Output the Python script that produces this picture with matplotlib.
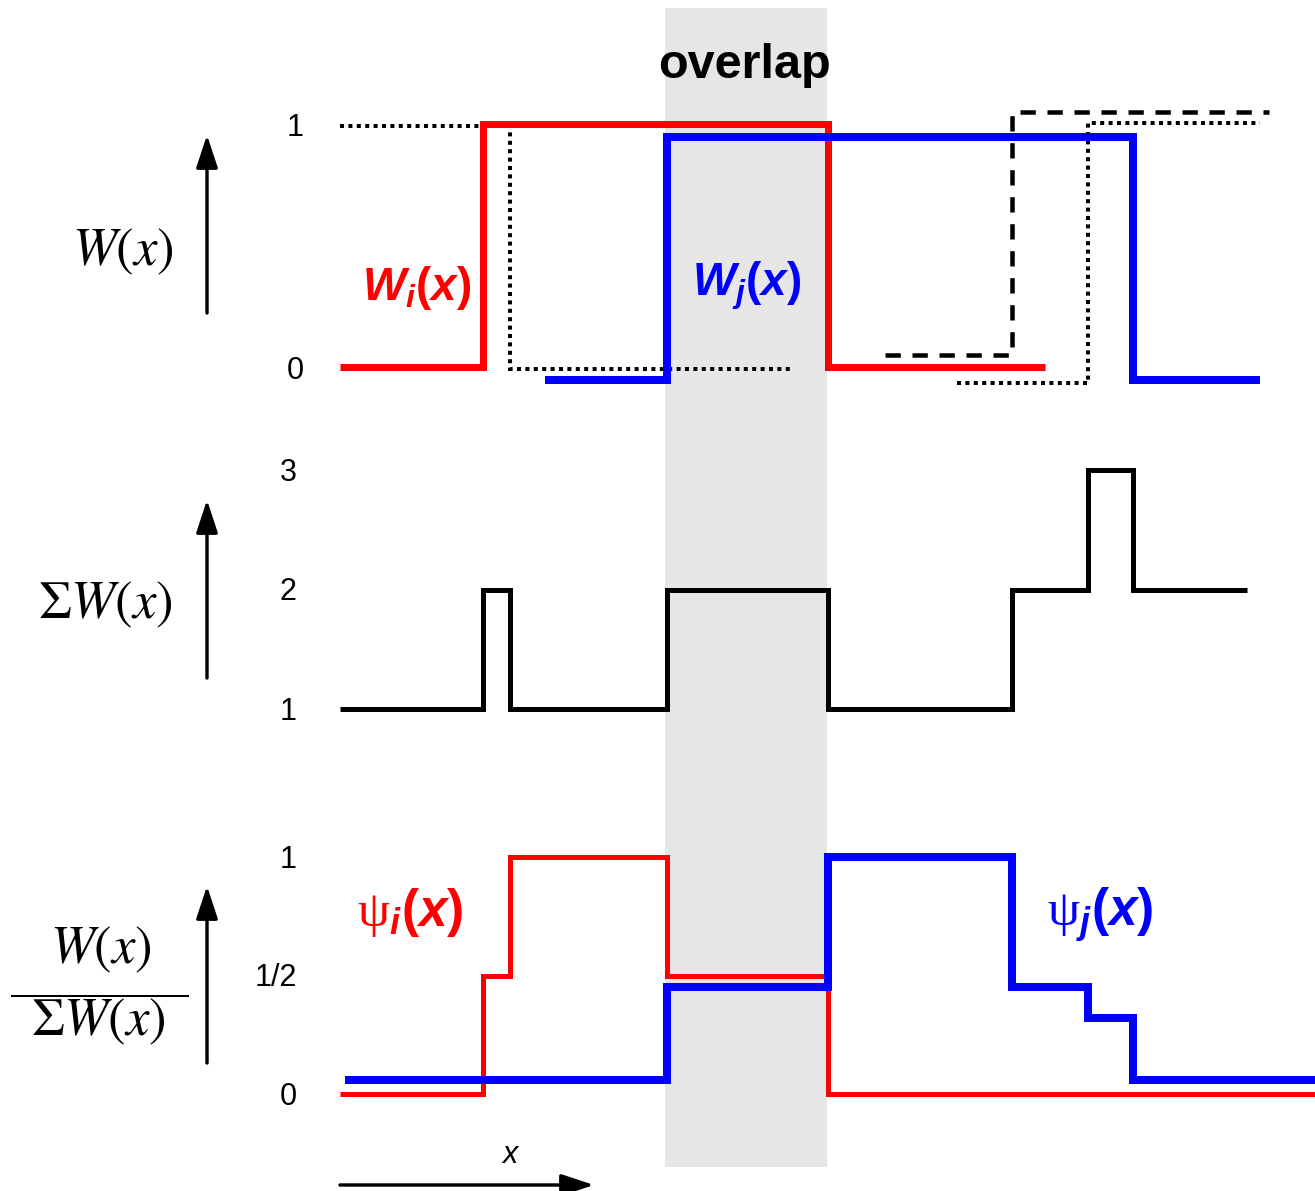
import matplotlib
matplotlib.use("Agg")
import matplotlib.pyplot as plt
from matplotlib.transforms import offset_copy, blended_transform_factory
from matplotlib.patches import FancyArrowPatch
from matplotlib.lines import Line2D

# ---------------- data ----------------
# x positions of the step edges (arbitrary units along x)
wi_edges = [0.0, 14.3, 48.8, 70.5]          # W_i(x)
wi_levels = [0, 1, 0]
wl_edges = [0.0, 17.0, 45.3]                # left neighbour weight (dotted)
wl_levels = [1, 0]
wj_edges = [20.5, 32.7, 79.3, 92.0]         # W_j(x)
wj_levels = [0, 1, 0]
wd_edges = [54.5, 67.2, 92.9]               # right neighbour weight (dashed)
wd_levels = [0, 1]
wr_edges = [61.7, 74.8, 92.0]               # further neighbour weight (dotted)
wr_levels = [-0.06, 1.01]

sum_edges = [0.0, 14.3, 17.0, 32.7, 48.8, 67.2, 74.8, 79.3, 90.7]
sum_levels = [1, 2, 1, 2, 1, 2, 3, 2]

psi_i_edges = [0.0, 14.3, 17.0, 32.7, 48.8, 97.5]
psi_i_levels = [0, 0.5, 1, 0.5, 0]
psi_j_edges = [0.5, 32.7, 48.8, 67.2, 74.8, 79.3, 97.5]
psi_j_levels = [0.06, 0.45, 1.0, 0.45, 0.32, 0.06]

w_ticks = [0, 1]
w_ticklabels = ["0", "1"]
sum_ticks = [1, 2, 3]
sum_ticklabels = ["1", "2", "3"]
psi_ticks = [0, 0.5, 1]
psi_ticklabels = ["0", "1/2", "1"]

# ---------------- setup ----------------
W, H = 1315, 1191
X0, X1 = -34.0, 97.5

plt.rcParams["mathtext.fontset"] = "custom"
plt.rcParams["mathtext.it"] = "Liberation Sans:italic:bold"
plt.rcParams["mathtext.rm"] = "Liberation Sans:bold"
plt.rcParams["mathtext.bf"] = "Liberation Sans:bold"
plt.rcParams["mathtext.sf"] = "Liberation Serif"
plt.rcParams["font.family"] = ["Liberation Sans", "DejaVu Sans"]

RED = "#ff0000"
BLUE = "#0000ff"
BLACK = "#000000"

fig = plt.figure(figsize=(W / 100, H / 100), dpi=100)
fig.patch.set_facecolor("white")

def px(lw):
    """pixel width -> points"""
    return lw * 72 / 100

# background axes for the overlap band (x in data units, y in figure fraction)
bg = fig.add_axes([0, 0, 1, 1])
bg.set_xlim(X0, X1)
bg.set_ylim(0, 1)
bg.axis("off")
bg.axvspan(wj_edges[1] - 0.2, wi_edges[2] - 0.1, ymin=24 / H, ymax=1 - 8 / H,
           facecolor="#e6e6e6", edgecolor="none", zorder=0)

def panel(top_px, bot_px, v0, p0, v1, p1):
    ax = fig.add_axes([0, 1 - bot_px / H, 1, (bot_px - top_px) / H])
    s = (p1 - p0) / (v1 - v0)
    ax.set_xlim(X0, X1)
    ax.set_ylim(v0 + (bot_px - p0) / s, v0 + (top_px - p0) / s)
    ax.axis("off")
    ax.patch.set_alpha(0)
    return ax

ax_w = panel(0, 430, 0, 368, 1, 125)
ax_s = panel(430, 790, 1, 709, 3, 470)
ax_p = panel(790, 1191, 0, 1094, 1, 857)

def steps(ax, edges, levels, color, lw, ls="-", dy=0):
    tr = offset_copy(ax.transData, fig=fig, x=0, y=-dy, units="dots")
    art = ax.stairs(levels, edges, baseline=None, color=color, linewidth=px(lw),
                    linestyle=ls, transform=tr, clip_on=False)
    art.set_joinstyle("miter")
    return art

# top panel: individual weights
steps(ax_w, wl_edges, wl_levels, BLACK, 4, ls=(0, (1, 1.1)), dy=1)
steps(ax_w, wd_edges, wd_levels, BLACK, 4.5, ls=(0, (3.4, 2.6)), dy=-13)
steps(ax_w, wr_edges, wr_levels, BLACK, 4, ls=(0, (1, 1.1)))
steps(ax_w, wi_edges, wi_levels, RED, 7, dy=-1)
steps(ax_w, wj_edges, wj_levels, BLUE, 8, dy=12)

# middle panel: sum of weights
steps(ax_s, sum_edges, sum_levels, BLACK, 5)

# bottom panel: normalised weights
steps(ax_p, psi_i_edges, psi_i_levels, RED, 5)
steps(ax_p, psi_j_edges, psi_j_levels, BLUE, 8)

# tick labels
def ticklabels(ax, ticks, labels, xpix, dy=3):
    base = blended_transform_factory(fig.transFigure, ax.transData)
    tr = offset_copy(base, fig=fig, x=0, y=-dy, units="dots")
    for t, lab in zip(ticks, labels):
        x = xpix - (12 if "/" in lab else 0)
        ax.text(x / W, t, lab, transform=tr, ha="center", va="center",
                fontsize=22, color=BLACK, clip_on=False)

ticklabels(ax_w, w_ticks, w_ticklabels, 295)
ticklabels(ax_s, sum_ticks, sum_ticklabels, 288)
ticklabels(ax_p, psi_ticks, psi_ticklabels, 288)

# ---------------- decorations (pixel coordinates) ----------------
deco = fig.add_axes([0, 0, 1, 1])
deco.set_xlim(0, W)
deco.set_ylim(H, 0)
deco.axis("off")
deco.patch.set_alpha(0)

def arrow(x0, y0, x1, y1):
    a = FancyArrowPatch((x0, y0), (x1, y1),
                        arrowstyle="-|>,head_length=1.0,head_width=0.33",
                        mutation_scale=20, linewidth=px(3.4), color=BLACK,
                        shrinkA=0, shrinkB=0)
    deco.add_patch(a)

arrow(207, 313, 207, 135)
arrow(207, 678, 207, 500)
arrow(207, 1063, 207, 886)
arrow(340, 1185, 594, 1185)

deco.text(510, 1155, "x", fontsize=22, style="italic", ha="center", va="center")

deco.text(745, 66, "overlap", fontsize=35, fontweight="bold", ha="center", va="center")

# y-axis quantities
deco.text(123, 252, r"$W(x)$", fontsize=38, math_fontfamily="stix", ha="center", va="center")
deco.text(105, 605, r"$\Sigma W(x)$", fontsize=38, math_fontfamily="stix", ha="center", va="center")
deco.text(101, 950, r"$W(x)$", fontsize=38, math_fontfamily="stix", ha="center", va="center")
deco.text(98, 1022, r"$\Sigma W(x)$", fontsize=38, math_fontfamily="stix", ha="center", va="center")
deco.add_line(Line2D([12, 188], [996, 996], color=BLACK, linewidth=px(2)))

# curve names
deco.text(362, 300, r"$W_i(x)$", fontsize=33, color=RED, ha="left", va="baseline")
deco.text(692, 296, r"$W_j(x)$", fontsize=33, color=BLUE, ha="left", va="baseline")
deco.text(357, 926, r"$\mathsf{\psi}_i(x)$", fontsize=37, color=RED, ha="left", va="baseline")
deco.text(1047, 926, r"$\mathsf{\psi}_j(x)$", fontsize=37, color=BLUE, ha="left", va="baseline")

fig.savefig("out.png", dpi=100)
